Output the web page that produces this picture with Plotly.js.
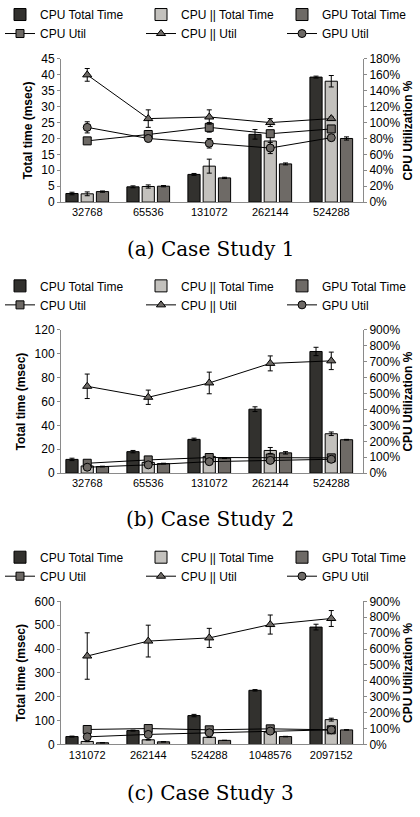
<!DOCTYPE html>
<html><head><meta charset="utf-8">
<script src="https://cdn.plot.ly/plotly-3.0.1.min.js"></script>
<style>html,body{margin:0;padding:0;background:#fff}#chart{width:420px;height:817px}</style>
</head><body><div id="chart"></div>
<script>
// ---- data ----
const sizesA = ['32768','65536','131072','262144','524288'];
const sizesB = ['32768','65536','131072','262144','524288'];
const sizesC = ['131072','262144','524288','1048576','2097152'];

const cpuTimeA = [2.7, 4.8, 8.7, 21.3, 39.3];
const cpuTimeErrA = [0.4, 0.3, 0.3, 1.5, 0.3];
const parTimeA = [2.6, 4.9, 11.3, 19.2, 38.0];
const parTimeErrA = [0.6, 0.5, 2.2, 2.8, 1.8];
const gpuTimeA = [3.3, 5.0, 7.6, 12.0, 20.0];
const gpuTimeErrA = [0.2, 0.2, 0.2, 0.3, 0.5];
const cpuUtilA = [77, 85, 94, 86, 92];
const cpuUtilErrA = [2, 3, 6, 4, 2];
const parUtilA = [160, 105, 107, 100, 105];
const parUtilErrA = [8, 11, 9, 5, 2];
const gpuUtilA = [94, 80, 74, 68, 81];
const gpuUtilErrA = [7, 4, 6, 7, 2];

const cpuTimeB = [11.5, 18, 28.3, 53.6, 102];
const cpuTimeErrB = [1, 1, 1, 2, 3.5];
const parTimeB = [6, 9, 14, 19, 33];
const parTimeErrB = [1, 1, 1.5, 2.5, 1.5];
const gpuTimeB = [5.5, 8, 12.5, 17, 28];
const gpuTimeErrB = [0.3, 0.3, 0.3, 1, 0.3];
const cpuUtilB = [62, 83, 98, 95, 96];
const cpuUtilErrB = [10, 8, 10, 6, 5];
const parUtilB = [546, 477, 567, 690, 706];
const parUtilErrB = [77, 45, 68, 47, 55];
const gpuUtilB = [37, 52, 72, 80, 87];
const gpuUtilErrB = [5, 5, 5, 5, 5];

const cpuTimeC = [33, 58, 121, 227, 492];
const cpuTimeErrC = [2, 2, 5, 3, 12];
const parTimeC = [12.5, 19.5, 30, 52, 104];
const parTimeErrC = [1, 1, 1, 2, 6];
const gpuTimeC = [7, 11, 17, 33, 61];
const gpuTimeErrC = [0.5, 0.5, 0.5, 1, 1];
const cpuUtilC = [94, 100, 92, 98, 92];
const cpuUtilErrC = [3, 3, 3, 3, 3];
const parUtilC = [556, 650, 670, 754, 792];
const parUtilErrC = [146, 100, 60, 60, 50];
const gpuUtilC = [48, 63, 73, 84, 92];
const gpuUtilErrC = [3, 3, 3, 3, 3];

const captions = ['(a) Case Study 1', '(b) Case Study 2', '(c) Case Study 3'];

// ---- styles ----
const C_DARK = '#32312e', C_LIGHT = '#c3c1bd', C_MID = '#6e6a66', C_MARK = '#6d6965';
const AXC = '#8a8a8a';
const err = a => ({type:'data', array:a, visible:true, color:'#000', thickness:1, width:2.5});

function panel(idx, x, bars, lines) {
  const xa = idx === 1 ? 'x' : 'x' + idx;
  const yl = 'y' + (idx === 1 ? '' : (2*idx - 1));
  const yr = 'y' + (2*idx);
  const lg = idx === 1 ? 'legend' : 'legend' + idx;
  const names = ['CPU Total Time','CPU || Total Time','GPU Total Time'];
  const cols = [C_DARK, C_LIGHT, C_MID];
  const tr = [];
  bars.forEach((b, i) => tr.push({
    type:'bar', x:x, y:b[0], error_y:err(b[1]), name:names[i], xaxis:xa, yaxis:yl, legend:lg,
    marker:{color:cols[i], line:{color:'#000', width:1}}, hoverinfo:'skip'
  }));
  const lnames = ['CPU Util','CPU || Util','GPU Util'];
  const syms = ['square','triangle-up','circle'];
  lines.forEach((l, i) => tr.push({
    type:'scatter', mode:'lines+markers', x:x, y:l[0], error_y:err(l[1]), name:lnames[i],
    xaxis:xa, yaxis:yr, legend:lg,
    line:{color:'#000', width:1},
    marker:{symbol:syms[i], size:8, color:C_MARK, line:{color:'#000', width:1}}, hoverinfo:'skip'
  }));
  return tr;
}

const data = [].concat(
  panel(1, sizesA, [[cpuTimeA,cpuTimeErrA],[parTimeA,parTimeErrA],[gpuTimeA,gpuTimeErrA]],
                   [[cpuUtilA,cpuUtilErrA],[parUtilA,parUtilErrA],[gpuUtilA,gpuUtilErrA]]),
  panel(2, sizesB, [[cpuTimeB,cpuTimeErrB],[parTimeB,parTimeErrB],[gpuTimeB,gpuTimeErrB]],
                   [[cpuUtilB,cpuUtilErrB],[parUtilB,parUtilErrB],[gpuUtilB,gpuUtilErrB]]),
  panel(3, sizesC, [[cpuTimeC,cpuTimeErrC],[parTimeC,parTimeErrC],[gpuTimeC,gpuTimeErrC]],
                   [[cpuUtilC,cpuUtilErrC],[parUtilC,parUtilErrC],[gpuUtilC,gpuUtilErrC]])
);

const H = 817, W = 420;
const py = px => (H - px) / H;
const doms = [[py(198.3), py(54.3)], [py(471), py(327)], [py(744), py(600)]];
const xdom = [61/W, 363/W];
const leftR = [[0,45,5],[0,120,20],[0,600,100]];
const rightR = [[0,180,20],[0,900,100],[0,900,100]];
const legTop = [py(-5), py(268), py(541)];
const capY = [py(245), py(517), py(793)];

const font = {family:'Liberation Sans, Arial, sans-serif', size:12, color:'#000'};
const layout = {
  width: W, height: H, margin:{l:0,r:0,t:0,b:0},
  paper_bgcolor:'#fff', plot_bgcolor:'rgba(0,0,0,0)',
  font: font, barmode:'group', bargap:0.25, bargroupgap:0.2,
  annotations: [], showlegend: true
};
for (let i = 1; i <= 3; i++) {
  const xk = i === 1 ? 'xaxis' : 'xaxis' + i;
  const ylk = i === 1 ? 'yaxis' : 'yaxis' + (2*i - 1);
  const yrk = 'yaxis' + (2*i);
  const ylName = i === 1 ? 'y' : 'y' + (2*i - 1);
  const xName = i === 1 ? 'x' : 'x' + i;
  layout[xk] = {domain:xdom, anchor:ylName, type:'category', range:[-0.43, 4.52],
    showline:true, linecolor:AXC, linewidth:1, ticks:'', showgrid:false, zeroline:false,
    tickfont:{size:11, color:'#000'}, fixedrange:true};
  layout[ylk] = {domain:doms[i-1], anchor:xName, range:[leftR[i-1][0], leftR[i-1][1]], dtick:leftR[i-1][2], tick0:0,
    showline:true, linecolor:AXC, linewidth:1, ticks:'outside', ticklen:3, tickcolor:AXC,
    showgrid:false, zeroline:false, tickfont:{size:12, color:'#000'},
    title:{text:'<b>Total time (msec)</b>', font:{size:12, color:'#000'}, standoff:6}};
  layout[yrk] = {domain:doms[i-1], anchor:xName, overlaying:ylName, side:'right',
    range:[rightR[i-1][0], rightR[i-1][1]], dtick:rightR[i-1][2], tick0:0, ticksuffix:'%',
    showline:true, linecolor:AXC, linewidth:1, ticks:'outside', ticklen:3, tickcolor:AXC,
    showgrid:false, zeroline:false, tickfont:{size:12, color:'#000'},
    title:{text:'<b>CPU Utilization %</b>', font:{size:12, color:'#000'}, standoff:4}};
  const lk = i === 1 ? 'legend' : 'legend' + i;
  layout[lk] = {orientation:'h', x:0.005, xanchor:'left', y:legTop[i-1], yanchor:'top',
    entrywidth:96, entrywidthmode:'pixels', font:{size:12, color:'#000'},
    bgcolor:'rgba(0,0,0,0)', borderwidth:0, traceorder:'normal', tracegroupgap:0};
  layout.annotations.push({text:captions[i-1], xref:'paper', yref:'paper', x:0.5, y:capY[i-1],
    xanchor:'center', yanchor:'middle', showarrow:false,
    font:{family:'DejaVu Serif, serif', size:20, color:'#000'}});
}
Plotly.newPlot('chart', data, layout, {staticPlot:true, displayModeBar:false});
</script>
</body></html>
